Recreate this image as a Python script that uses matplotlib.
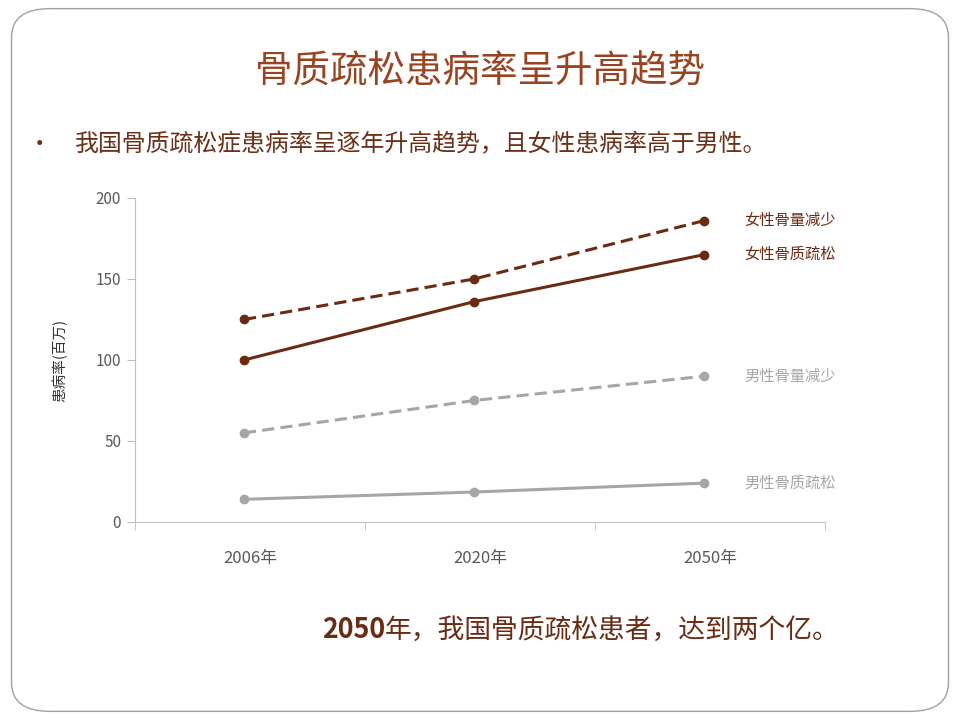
import matplotlib
matplotlib.use("Agg")
import matplotlib.pyplot as plt
import matplotlib.transforms as mtransforms
from matplotlib.patches import FancyBboxPatch

plt.rcParams['font.family'] = ['Noto Sans CJK SC', 'DejaVu Sans']

# --- DATA ---
years = ['2006年', '2020年', '2050年']
female_low_mass = [125, 150, 186]      # 女性骨量减少
female_osteo = [100, 136, 165]         # 女性骨质疏松
male_low_mass = [55, 75, 90]           # 男性骨量减少
male_osteo = [14, 18.5, 24]            # 男性骨质疏松
y_ticks = [0, 50, 100, 150, 200]

BROWN = '#6b2a12'
GRAY = '#a6a6a6'

fig = plt.figure(figsize=(9.6, 7.2), dpi=100)

# slide frame
frame = FancyBboxPatch((0.012, 0.012), 0.976, 0.976,
                       boxstyle="round,pad=0,rounding_size=0.04",
                       transform=fig.transFigure, facecolor='white',
                       edgecolor='#a0a0a0', linewidth=1.0, zorder=-5)
fig.patches.append(frame)

fig.text(0.5, 1 - 72 / 720, '骨质疏松患病率呈升高趋势', ha='center', va='center',
         fontsize=27, color='#9a4320')
fig.text(0.041, 0.799, '•', ha='center', va='center', fontsize=17, color='#6b3018')
fig.text(0.078, 0.799, '我国骨质疏松症患病率呈逐年升高趋势，且女性患病率高于男性。',
         ha='left', va='center', fontsize=17.2, color='#6b3018')

ax = fig.add_axes([135 / 960, 1 - 522 / 720, 690 / 960, 324 / 720])
ax.patch.set_alpha(0)
# the points sit a few pixels left of the category centres in the original
shift = mtransforms.ScaledTranslation(-6 / 100, 0, fig.dpi_scale_trans)
x = range(len(years))
series = [
    (female_low_mass, '女性骨量减少', BROWN, '--'),
    (female_osteo, '女性骨质疏松', BROWN, '-'),
    (male_low_mass, '男性骨量减少', GRAY, '--'),
    (male_osteo, '男性骨质疏松', GRAY, '-'),
]
for vals, name, color, ls in series:
    line, = ax.plot(x, vals, color=color, linestyle=ls, linewidth=2.2,
                    marker='o', markersize=6, clip_on=False,
                    transform=ax.transData + shift)
    if ls == '--':
        line.set_dashes((4, 2))
    ax.annotate(name, xy=(x[-1], vals[-1]), xytext=(25, 0),
                textcoords='offset points', ha='left', va='center',
                fontsize=11, color=color, annotation_clip=False)

ax.set_xlim(-0.5, 2.5)
ax.set_ylim(0, 200)
ax.set_yticks(y_ticks)
ax.set_xticks(list(x))
ax.set_xticklabels(years)
ax.set_xticks([-0.5, 0.5, 1.5, 2.5], minor=True)
ax.tick_params(axis='x', which='major', length=0, pad=20, labelsize=12, colors='#595959')
ax.tick_params(axis='x', which='minor', length=6, color='#bfbfbf', direction='out')
ax.tick_params(axis='y', length=6, color='#bfbfbf', labelsize=11, labelcolor='#595959', pad=4)
for s in ['top', 'right']:
    ax.spines[s].set_visible(False)
for s in ['left', 'bottom']:
    ax.spines[s].set_color('#bfbfbf')
ax.set_ylabel('患病率(百万)', fontsize=10.5, color='#333333', labelpad=20)

fig.text(385 / 960, 1 - 630 / 720, '2050', ha='right', va='center',
         fontsize=19.3, fontweight='bold', color=BROWN)
fig.text(385 / 960, 1 - 630 / 720, '年，我国骨质疏松患者，达到两个亿。', ha='left',
         va='center', fontsize=19.3, fontweight='medium', color=BROWN)

fig.savefig('out.png', dpi=100)
